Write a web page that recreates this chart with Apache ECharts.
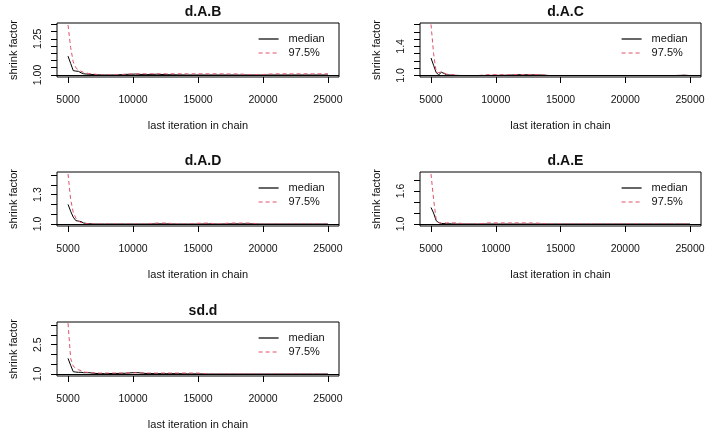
<!DOCTYPE html>
<html>
<head>
<meta charset="utf-8">
<script src="https://cdn.jsdelivr.net/npm/echarts@6/dist/echarts.min.js"></script>
<style>
html, body { margin: 0; padding: 0; background: #fff; }
#chart { width: 720px; height: 434px; }
</style>
</head>
<body>
<div id="chart"></div>
<script>
// last iteration in chain (shared by all panels)
const iterations = [5000, 5200, 5400, 5600, 5800, 6000, 6200, 6600, 7000, 7400, 7800, 8600, 9400, 10200,
  11000, 11800, 12600, 13400, 14200, 15000, 15800, 16600, 17400, 18200, 19000, 19800, 20600, 21400,
  22200, 23000, 23800, 24600, 25000];

const panelNames = ['d.A.B', 'd.A.C', 'd.A.D', 'd.A.E', 'sd.d'];

// shrink factor, median and 97.5% per panel
const medianAB = [1.13, 1.08, 1.03, 1.027, 1.025, 1.015, 1.008, 1.005, 1.003, 1.001, 1.0, 1.0, 1.004, 1.006,
  1.002, 1.005, 1.002, 1.001, 1.0, 1.0, 1.0, 1.0, 1.0, 1.0, 1.0, 1.0, 1.0, 1.0, 1.0, 1.0, 1.0, 1.0, 1.0];
const upperAB = [1.345, 1.19, 1.09, 1.05, 1.035, 1.025, 1.018, 1.01, 1.006, 1.002, 1.0, 1.001, 1.005, 1.008,
  1.008, 1.008, 1.008, 1.008, 1.008, 1.008, 1.008, 1.008, 1.007, 1.007, 1.002, 1.002, 1.007, 1.008, 1.008,
  1.008, 1.008, 1.008, 1.008];

const medianAC = [1.24, 1.14, 1.04, 1.01, 1.045, 1.03, 1.01, 1.005, 1.002, 1.0, 1.0, 1.0, 1.002, 1.003,
  1.005, 1.012, 1.01, 1.008, 1.0, 1.0, 1.0, 1.0, 1.0, 1.0, 1.0, 1.0, 1.0, 1.0, 1.0, 1.0, 1.0, 1.004, 1.0];
const upperAC = [1.70, 1.30, 1.05, 1.04, 1.05, 1.035, 1.02, 1.015, 1.002, 1.0, 1.0, 1.0, 1.012, 1.012,
  1.012, 1.014, 1.015, 1.012, 1.0, 1.0, 1.0, 1.0, 1.0, 1.0, 1.0, 1.0, 1.0, 1.0, 1.0, 1.0, 1.0, 1.004, 1.0];

const medianAD = [1.20, 1.13, 1.07, 1.035, 1.03, 1.025, 1.01, 1.003, 1.0, 1.0, 1.0, 1.0, 1.0, 1.0,
  1.0, 1.002, 1.002, 1.0, 1.0, 1.0, 1.002, 1.0, 1.002, 1.002, 1.002, 1.0, 1.0, 1.0, 1.0, 1.0, 1.0, 1.0, 1.0];
const upperAD = [1.51, 1.25, 1.12, 1.06, 1.03, 1.015, 1.008, 1.003, 1.0, 1.0, 1.0, 1.0, 1.0, 1.0,
  1.0, 1.01, 1.01, 1.0, 1.0, 1.008, 1.01, 1.0, 1.01, 1.01, 1.01, 1.0, 1.0, 1.0, 1.0, 1.0, 1.0, 1.0, 1.0];

const medianAE = [1.30, 1.20, 1.06, 1.025, 1.01, 1.008, 1.005, 1.003, 1.0, 1.0, 1.0, 1.0, 1.0, 1.0,
  1.0, 1.0, 1.0, 1.0, 1.0, 1.0, 1.0, 1.0, 1.0, 1.0, 1.0, 1.0, 1.0, 1.0, 1.0, 1.0, 1.0, 1.0, 1.0];
const upperAE = [1.91, 1.45, 1.08, 1.03, 1.015, 1.02, 1.02, 1.02, 1.02, 1.01, 1.0, 1.0, 1.02, 1.02,
  1.02, 1.02, 1.02, 1.015, 1.0, 1.0, 1.0, 1.0, 1.0, 1.0, 1.0, 1.0, 1.0, 1.0, 1.0, 1.0, 1.0, 1.0, 1.0];

const medianSD = [1.80, 1.45, 1.12, 1.10, 1.09, 1.09, 1.07, 1.07, 1.04, 1.02, 1.02, 1.03, 1.04, 1.08,
  1.03, 1.02, 1.02, 1.02, 1.01, 1.01, 1.0, 1.0, 1.0, 1.0, 1.0, 1.0, 1.0, 1.0, 1.0, 1.0, 1.0, 1.0, 1.0];
const upperSD = [3.60, 1.80, 1.40, 1.30, 1.22, 1.18, 1.10, 1.08, 1.06, 1.05, 1.05, 1.05, 1.05, 1.06,
  1.05, 1.05, 1.05, 1.05, 1.05, 1.05, 1.0, 1.0, 1.0, 1.0, 1.0, 1.0, 1.0, 1.0, 1.0, 1.0, 1.0, 1.0, 1.0];

// axis ticks and labels
const xTicks = [5000, 10000, 15000, 20000, 25000];
const yTicksAB = [1.00, 1.05, 1.10, 1.15, 1.20, 1.25, 1.30, 1.35];
const yLabelsAB = [1.00, 1.25];
const yTicksAC = [1.0, 1.1, 1.2, 1.3, 1.4, 1.5, 1.6, 1.7];
const yLabelsAC = [1.0, 1.4];
const yTicksAD = [1.0, 1.1, 1.2, 1.3, 1.4, 1.5];
const yLabelsAD = [1.0, 1.3];
const yTicksAE = [1.0, 1.2, 1.4, 1.6, 1.8];
const yLabelsAE = [1.0, 1.6];
const yTicksSD = [1.0, 1.5, 2.0, 2.5, 3.0, 3.5];
const yLabelsSD = [1.0, 2.5];

const panels = [
  { median: medianAB, upper: upperAB, ticks: yTicksAB, labels: yLabelsAB, dec: 2, min: 0.986, max: 1.359 },
  { median: medianAC, upper: upperAC, ticks: yTicksAC, labels: yLabelsAC, dec: 1, min: 0.98, max: 1.72 },
  { median: medianAD, upper: upperAD, ticks: yTicksAD, labels: yLabelsAD, dec: 1, min: 0.98, max: 1.53 },
  { median: medianAE, upper: upperAE, ticks: yTicksAE, labels: yLabelsAE, dec: 1, min: 0.964, max: 1.946 },
  { median: medianSD, upper: upperSD, ticks: yTicksSD, labels: yLabelsSD, dec: 1, min: 0.9, max: 3.66 }
];

const colLeft = [57, 420];
const colWidth = [282, 281];
const rowTop = [23, 172, 322];
const plotH = 54;
const font = 'Liberation Sans, Arial, sans-serif';
const ink = '#111';
const red = '#DF536B';
const dash = [4, 3];

const option = {
  animation: false,
  title: [], grid: [], xAxis: [], yAxis: [], legend: [], series: []
};

panels.forEach((p, i) => {
  const c = i % 2, r = Math.floor(i / 2);
  const left = colLeft[c], top = rowTop[r], w = colWidth[c];
  option.title.push({
    text: panelNames[i], left: left + w / 2, top: top - 23, textAlign: 'center',
    textStyle: { fontFamily: font, fontSize: 14, fontWeight: 'bold', color: ink }
  });
  option.grid.push({
    left: left, top: top, width: w, height: plotH,
    show: true, borderColor: '#000', borderWidth: 1, backgroundColor: 'transparent'
  });
  option.xAxis.push({
    type: 'value', gridIndex: i, min: 4150, max: 25850,
    name: 'last iteration in chain', nameLocation: 'middle', nameGap: 43,
    nameTextStyle: { fontFamily: font, fontSize: 11, color: ink },
    axisLine: { show: false, onZero: false },
    axisTick: { show: true, length: 6, customValues: xTicks, lineStyle: { color: '#000' } },
    axisLabel: {
      customValues: xTicks, margin: 18, fontFamily: font, fontSize: 10.5, color: ink,
      formatter: v => String(v)
    },
    splitLine: { show: false }
  });
  option.yAxis.push({
    type: 'value', gridIndex: i, min: p.min, max: p.max,
    name: 'shrink factor', nameLocation: 'middle', nameGap: 38, nameRotate: 90,
    nameTextStyle: { fontFamily: font, fontSize: 11, color: ink },
    axisLine: { show: false },
    axisTick: { show: true, length: 6, customValues: p.ticks, lineStyle: { color: '#000' } },
    axisLabel: {
      customValues: p.labels, rotate: 90, margin: 13,
      fontFamily: font, fontSize: 10.5, color: ink,
      formatter: v => Number(v).toFixed(p.dec)
    },
    splitLine: { show: false }
  });
  option.legend.push({
    data: [
      { name: 'median', itemStyle: { opacity: 0 }, lineStyle: { color: '#000', width: 1.2, type: 'solid' } },
      { name: '97.5%', itemStyle: { opacity: 0 }, lineStyle: { color: red, width: 1.2, type: dash } }
    ],
    orient: 'vertical', padding: 0,
    left: left + 201, top: top + 10.5,
    itemWidth: 20, itemHeight: 10, itemGap: 3,
    textStyle: { fontFamily: font, fontSize: 11, color: ink, padding: [0, 0, 0, 5] }
  });
  option.series.push({
    name: 'median', type: 'line', xAxisIndex: i, yAxisIndex: i,
    symbol: 'none', data: iterations.map((x, k) => [x, p.median[k]]),
    lineStyle: { color: '#000', width: 1 }, itemStyle: { color: '#000' }
  });
  option.series.push({
    name: '97.5%', type: 'line', xAxisIndex: i, yAxisIndex: i,
    symbol: 'none', data: iterations.map((x, k) => [x, p.upper[k]]),
    lineStyle: { color: red, width: 1, type: dash }, itemStyle: { color: red },
    markLine: {
      silent: true, symbol: 'none', label: { show: false },
      lineStyle: { color: '#000', type: 'solid', width: 1 },
      data: [{ yAxis: 1 }]
    }
  });
});

const chart = echarts.init(document.getElementById('chart'));
chart.setOption(option);
</script>
</body>
</html>
